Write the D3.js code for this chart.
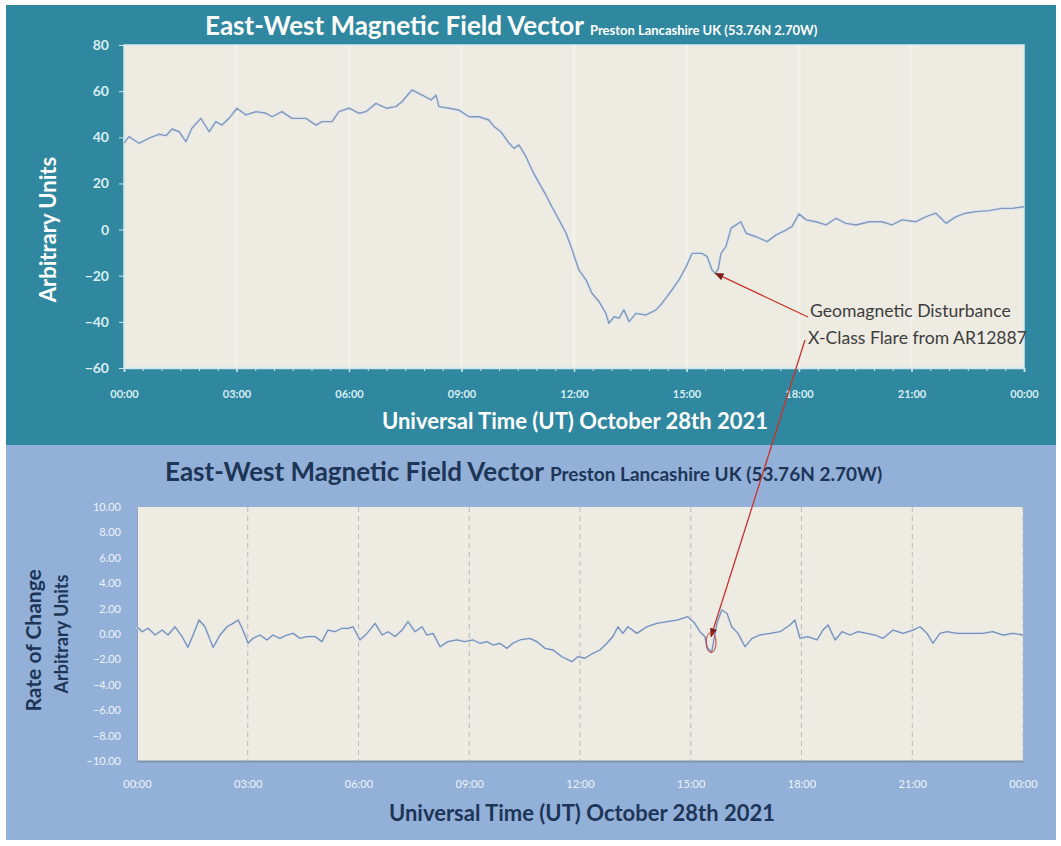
<!DOCTYPE html>
<html>
<head>
<meta charset="utf-8">
<script src="https://cdn.jsdelivr.net/npm/d3@7"></script>
<style>
  body { margin: 0; background: #fff; }
  svg { display: block; }
  text { font-family: Lato, "Open Sans", sans-serif; }
</style>
</head>
<body>
<div id="chart"></div>
<script>
// --- data ---
const hourTicks = [0, 3, 6, 9, 12, 15, 18, 21, 24];
const hourLabels = ['00:00', '03:00', '06:00', '09:00', '12:00', '15:00', '18:00', '21:00', '00:00'];
const fieldTicks = [-60, -40, -20, 0, 20, 40, 60, 80];
const rocTicks = [-10, -8, -6, -4, -2, 0, 2, 4, 6, 8, 10];

// East-West field, hours since 00:00 UT
const fieldTime = [0.00, 0.13, 0.40, 0.67, 0.93, 1.12, 1.28, 1.47, 1.65, 1.81, 2.05, 2.27, 2.45, 2.61, 2.80,
  3.01, 3.25, 3.52, 3.79, 3.95, 4.21, 4.48, 4.85, 5.12, 5.28, 5.55, 5.73, 6.00, 6.27, 6.45, 6.72, 6.99,
  7.25, 7.41, 7.68, 7.95, 8.19, 8.32, 8.40, 8.67, 8.93, 9.20, 9.47, 9.73, 9.87, 10.05, 10.27, 10.40,
  10.53, 10.72, 10.88, 11.07, 11.25, 11.41, 11.60, 11.79, 11.95, 12.13, 12.32, 12.48, 12.67, 12.85,
  12.93, 13.07, 13.20, 13.33, 13.47, 13.65, 13.92, 14.19, 14.35, 14.61, 14.80, 14.99, 15.15, 15.41,
  15.55, 15.68, 15.77, 15.85, 15.92, 16.05, 16.19, 16.32, 16.45, 16.59, 16.85, 17.15, 17.39, 17.65,
  17.81, 18.00, 18.19, 18.45, 18.72, 18.99, 19.25, 19.52, 19.87, 20.21, 20.48, 20.75, 21.12, 21.39,
  21.65, 21.92, 22.19, 22.45, 22.72, 23.07, 23.41, 23.68, 24.00];
const fieldValue = [37.5, 40.3, 37.4, 39.6, 41.3, 40.7, 43.6, 42.4, 38.1, 43.9, 48.2, 42.4, 46.8, 45.3, 48.2,
  52.6, 49.7, 51.1, 50.4, 48.9, 51.1, 48.2, 48.2, 45.3, 46.8, 46.8, 51.1, 52.6, 50.4, 51.1, 54.7, 52.6,
  53.3, 55.4, 60.5, 58.3, 56.2, 58.3, 53.3, 52.6, 51.8, 48.9, 48.9, 47.5, 44.6, 42.4, 37.4, 35.2,
  36.7, 31.6, 25.8, 20.1, 15.0, 9.9, 4.2, -1.6, -8.8, -17.5, -21.8, -27.6, -31.3, -36.3,
  -40.6, -37.8, -38.4, -34.8, -39.9, -36.3, -37.0, -34.8, -31.9, -26.2, -21.8, -16.1, -10.3, -10.3,
  -11.7, -17.5, -19.0, -16.8, -10.3, -7.4, 0.6, 2.0, 3.4, -1.6, -3.1, -5.2, -2.3, -0.2,
  1.3, 6.8, 4.2, 3.4, 2.0, 4.9, 2.7, 2.0, 3.4, 3.4, 2.0, 4.2, 3.4, 5.6,
  7.1, 2.7, 5.6, 7.1, 7.8, 8.2, 9.2, 9.2, 9.9];

// Rate of change
const rocTime = [0.00, 0.14, 0.30, 0.49, 0.68, 0.84, 1.03, 1.22, 1.38, 1.52, 1.68, 1.84, 2.06, 2.25, 2.44,
  2.60, 2.74, 2.87, 3.01, 3.14, 3.33, 3.52, 3.68, 3.87, 4.06, 4.23, 4.41, 4.60, 4.82, 5.01, 5.17, 5.36,
  5.55, 5.72, 5.85, 6.04, 6.23, 6.45, 6.64, 6.80, 6.99, 7.18, 7.34, 7.53, 7.72, 7.85, 8.02, 8.21, 8.42,
  8.67, 8.88, 9.10, 9.29, 9.48, 9.64, 9.83, 10.02, 10.18, 10.37, 10.64, 10.83, 11.05, 11.27, 11.51,
  11.78, 11.94, 12.13, 12.35, 12.54, 12.73, 12.89, 13.03, 13.16, 13.30, 13.54, 13.81, 14.08, 14.36,
  14.63, 14.92, 15.11, 15.25, 15.38, 15.46, 15.57, 15.71, 15.84, 15.98, 16.11, 16.28, 16.47, 16.66,
  16.87, 17.15, 17.42, 17.69, 17.82, 17.96, 18.17, 18.42, 18.58, 18.72, 18.91, 19.10, 19.31, 19.53,
  19.77, 19.99, 20.21, 20.48, 20.75, 21.02, 21.21, 21.40, 21.56, 21.75, 21.94, 22.21, 22.56, 22.91,
  23.18, 23.46, 23.73, 24.00];
const rocValue = [0.57, 0.18, 0.45, -0.08, 0.31, -0.08, 0.57, -0.20, -1.05, -0.08, 1.10, 0.57, -1.05, -0.08, 0.57,
  0.84, 1.10, 0.31, -0.73, -0.34, -0.08, -0.47, -0.08, -0.34, -0.08, 0.05, -0.34, -0.20, -0.20, -0.60, 0.31, 0.18,
  0.45, 0.45, 0.57, -0.47, 0.05, 0.84, -0.08, 0.18, -0.20, 0.31, 0.97, 0.18, 0.57, -0.08, 0.05, -1.00, -0.60,
  -0.47, -0.60, -0.47, -0.73, -0.60, -0.87, -0.73, -1.13, -0.73, -0.47, -0.34, -0.60, -1.13, -1.26, -1.79,
  -2.18, -1.79, -1.91, -1.52, -1.26, -0.73, -0.20, 0.57, 0.05, 0.57, 0.05, 0.57, 0.84, 0.97,
  1.10, 1.36, 0.84, 0.18, -0.20, -1.13, -1.39, 0.84, 1.89, 1.63, 0.57, 0.05, -1.00, -0.34,
  -0.08, 0.05, 0.18, 0.71, 1.10, -0.34, -0.20, -0.47, 0.31, 0.71, -0.47, 0.18, -0.08, 0.18,
  0.05, -0.08, -0.34, 0.31, 0.05, 0.31, 0.57, 0.05, -0.73, 0.05, 0.18, 0.05, 0.05, 0.05,
  0.18, -0.08, 0.05, -0.08];

// where the annotation arrows land
const flareTop = { t: 15.77, v: -19.0 };
const flareRoc = { t: 15.55, v: -0.2 };

// --- layout ---
const W = 1061, H = 846;
const svg = d3.select('#chart').append('svg').attr('width', W).attr('height', H);

svg.append('rect').attr('x', 6).attr('y', 5).attr('width', 1050).attr('height', 440).attr('fill', '#2f87a0');
svg.append('rect').attr('x', 6).attr('y', 445).attr('width', 1050).attr('height', 395).attr('fill', '#93b0d8');

// ===== top chart =====
const x1 = d3.scaleLinear().domain([0, 24]).range([124, 1024]);
const y1 = d3.scaleLinear().domain([-60, 80]).range([368, 45]);

svg.append('rect').attr('x', x1(0)).attr('y', y1(80))
  .attr('width', x1(24) - x1(0)).attr('height', y1(-60) - y1(80))
  .attr('fill', '#eeebe2').attr('stroke', '#d6ecf0').attr('stroke-width', 1.5);

svg.append('g').selectAll('line').data(hourTicks.slice(1, -1)).join('line')
  .attr('x1', d => x1(d)).attr('x2', d => x1(d))
  .attr('y1', y1(80)).attr('y2', y1(-60))
  .attr('stroke', '#f3f1eb').attr('stroke-width', 2.5);

const topY = svg.append('g').attr('transform', `translate(${x1(0)},0)`)
  .call(d3.axisLeft(y1).tickValues(fieldTicks).tickSize(5).tickPadding(10));
topY.selectAll('text').attr('fill', '#d9eef3').style('font-size', '14px').style('font-weight', 'bold');
topY.selectAll('.domain, .tick line').attr('stroke', '#cfe6ea');

const topX = svg.append('g').attr('transform', `translate(0,${y1(-60)})`)
  .call(d3.axisBottom(x1).tickValues(hourTicks).tickFormat((d, i) => hourLabels[i]).tickSize(4).tickPadding(18));
topX.selectAll('text').attr('fill', '#d9eef3').style('font-size', '11px').style('font-weight', 'bold');
topX.selectAll('.domain, .tick line').attr('stroke', '#cfe6ea').attr('stroke-width', 1.5);

svg.append('g').attr('transform', `translate(0,${y1(-60)})`)
  .call(d3.axisBottom(x1).ticks(48).tickSize(3).tickFormat(''))
  .selectAll('.domain, .tick line').attr('stroke', '#cfe6ea');

const lineTop = d3.line().x((d, i) => x1(fieldTime[i])).y(d => y1(d));
svg.append('path').datum(fieldValue).attr('d', lineTop)
  .attr('fill', 'none').attr('stroke', '#dfe7f0').attr('stroke-width', 3.5).attr('stroke-linejoin', 'round');
svg.append('path').datum(fieldValue).attr('d', lineTop)
  .attr('fill', 'none').attr('stroke', '#8499b8').attr('stroke-width', 1.4).attr('stroke-linejoin', 'round');

svg.append('text').attr('x', 205).attr('y', 35).attr('fill', '#fff')
  .style('font-size', '26px').style('font-weight', 'bold')
  .text('East-West Magnetic Field Vector')
  .append('tspan').attr('dx', 6).style('font-size', '13px')
  .text('Preston Lancashire UK (53.76N 2.70W)');

svg.append('text').attr('transform', `translate(56,${y1(0)}) rotate(-90)`)
  .attr('text-anchor', 'middle').attr('fill', '#fff')
  .style('font-size', '22px').style('font-weight', 'bold').text('Arbitrary Units');

svg.append('text').attr('x', 575).attr('y', 429).attr('text-anchor', 'middle').attr('fill', '#fff')
  .style('font-size', '22px').style('font-weight', 'bold').text('Universal Time (UT) October 28th 2021');

// ===== bottom chart =====
const x2 = d3.scaleLinear().domain([0, 24]).range([137, 1023]);
const y2 = d3.scaleLinear().domain([-10, 10]).range([761, 507]);

svg.append('rect').attr('x', x2(0)).attr('y', y2(10))
  .attr('width', x2(24) - x2(0)).attr('height', y2(-10) - y2(10))
  .attr('fill', '#eeebe2');

svg.append('g').selectAll('line').data(hourTicks.slice(1)).join('line')
  .attr('x1', d => x2(d)).attr('x2', d => x2(d))
  .attr('y1', y2(10)).attr('y2', y2(-10))
  .attr('stroke', '#b9b9b9').attr('stroke-width', 1).attr('stroke-dasharray', '5,4');

const botY = svg.append('g').attr('transform', `translate(${x2(0)},0)`)
  .call(d3.axisLeft(y2).tickValues(rocTicks).tickFormat(d3.format('.2f')).tickSize(0).tickPadding(16));
botY.selectAll('text').attr('fill', '#eef3fa').style('font-size', '11px');
botY.select('.domain').attr('stroke', '#8fa2bb');

const botX = svg.append('g').attr('transform', `translate(0,${y2(-10)})`)
  .call(d3.axisBottom(x2).tickValues(hourTicks).tickFormat((d, i) => hourLabels[i]).tickSize(0).tickPadding(19));
botX.selectAll('text').attr('fill', '#eef3fa').style('font-size', '11px');
botX.select('.domain').attr('stroke', '#7f93ad').attr('stroke-width', 2);

const lineRoc = d3.line().x((d, i) => x2(rocTime[i])).y(d => y2(d));
svg.append('path').datum(rocValue).attr('d', lineRoc)
  .attr('fill', 'none').attr('stroke', '#dfe7f0').attr('stroke-width', 3).attr('stroke-linejoin', 'round');
svg.append('path').datum(rocValue).attr('d', lineRoc)
  .attr('fill', 'none').attr('stroke', '#7890b2').attr('stroke-width', 1.3).attr('stroke-linejoin', 'round');

svg.append('text').attr('x', 165).attr('y', 481).attr('fill', '#1d3557')
  .style('font-size', '26px').style('font-weight', 'bold')
  .text('East-West Magnetic Field Vector')
  .append('tspan').attr('dx', 6).style('font-size', '19px')
  .text('Preston Lancashire UK (53.76N 2.70W)');

svg.append('text').attr('transform', `translate(41,${y2(-0.5)}) rotate(-90)`)
  .attr('text-anchor', 'middle').attr('fill', '#1d3557')
  .style('font-size', '21px').style('font-weight', 'bold').text('Rate of Change');
svg.append('text').attr('transform', `translate(68,${y2(0)}) rotate(-90)`)
  .attr('text-anchor', 'middle').attr('fill', '#1d3557')
  .style('font-size', '18px').style('font-weight', 'bold').text('Arbitrary Units');

svg.append('text').attr('x', 582).attr('y', 821).attr('text-anchor', 'middle').attr('fill', '#1d3557')
  .style('font-size', '22px').style('font-weight', 'bold').text('Universal Time (UT) October 28th 2021');

// ===== annotation =====
const defs = svg.append('defs');
defs.append('marker').attr('id', 'head').attr('viewBox', '0 0 10 10')
  .attr('refX', 9).attr('refY', 5).attr('markerWidth', 7).attr('markerHeight', 7)
  .attr('orient', 'auto-start-reverse')
  .append('path').attr('d', 'M0,1 L10,5 L0,9 z').attr('fill', '#7a1f1a');

svg.append('line').attr('x1', 808).attr('y1', 317)
  .attr('x2', x1(flareTop.t)).attr('y2', y1(flareTop.v))
  .attr('stroke', '#c9332b').attr('stroke-width', 1.3).attr('marker-end', 'url(#head)');
svg.append('line').attr('x1', 805).attr('y1', 340)
  .attr('x2', x2(flareRoc.t)).attr('y2', y2(flareRoc.v))
  .attr('stroke', '#c9332b').attr('stroke-width', 1.3).attr('marker-end', 'url(#head)');
svg.append('ellipse').attr('cx', x2(flareRoc.t)).attr('cy', y2(flareRoc.v) + 6)
  .attr('rx', 5).attr('ry', 10).attr('fill', 'none').attr('stroke', '#c9332b').attr('stroke-width', 1);

const note = svg.append('text').attr('fill', '#3d3d3d').style('font-size', '17.6px');
note.append('tspan').attr('x', 810).attr('y', 317).text('Geomagnetic Disturbance');
note.append('tspan').attr('x', 808).attr('y', 344).text('X-Class Flare from AR12887');
</script>
</body>
</html>
